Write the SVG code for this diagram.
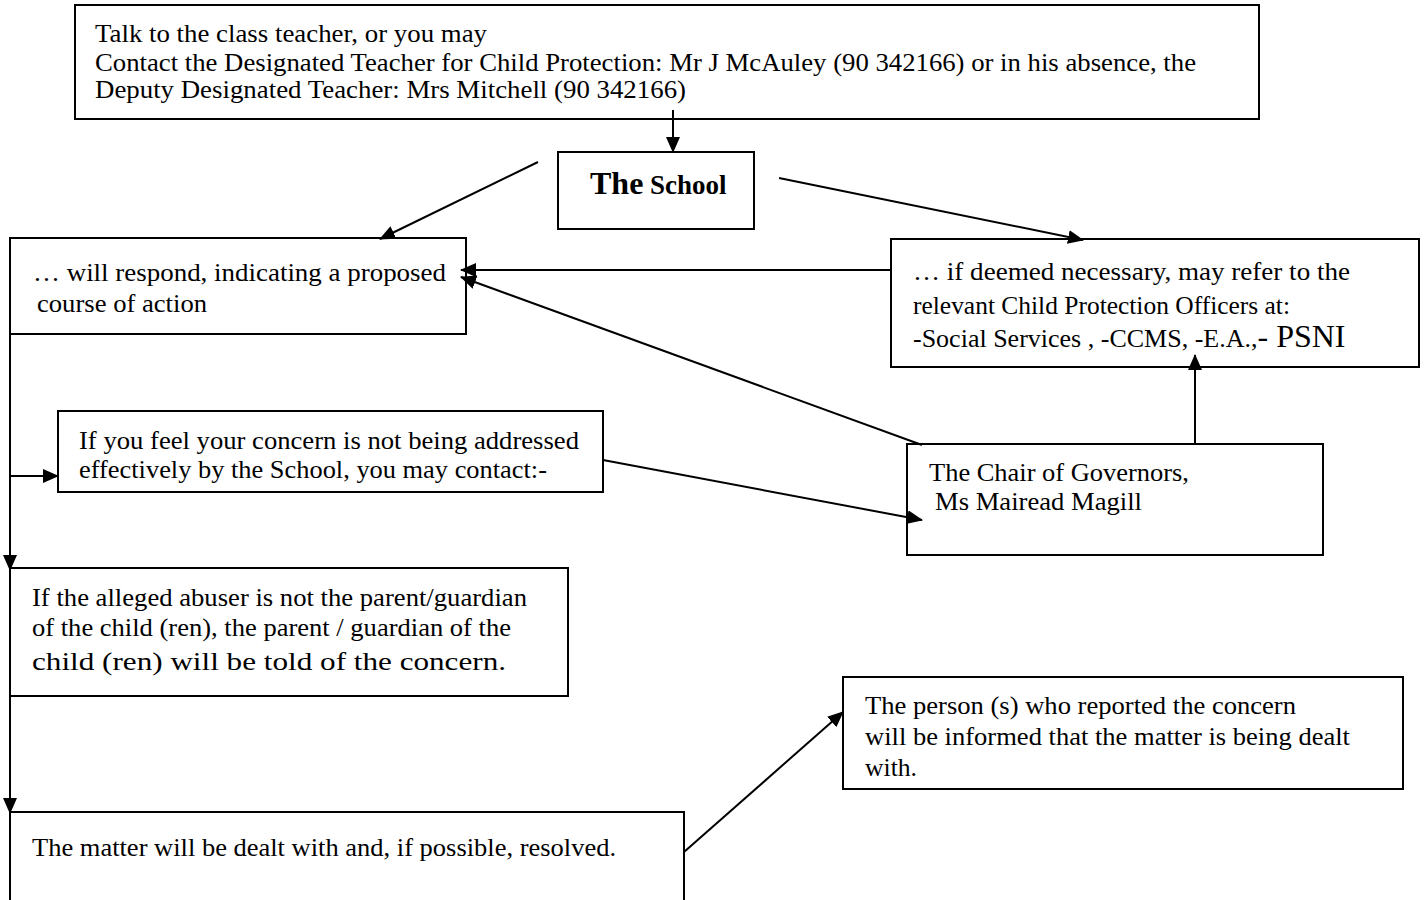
<svg xmlns="http://www.w3.org/2000/svg" width="1426" height="900" viewBox="0 0 1426 900">
<style>
.box{fill:#fff;stroke:#000;stroke-width:2}
.t{font-family:"Liberation Serif","Times New Roman",serif;font-size:26px;fill:#000}
.s{font-size:25px}
.b{font-weight:bold}
.c{fill:none;stroke:#000;stroke-width:2}
</style>
<defs>
<marker id="ah" markerUnits="userSpaceOnUse" markerWidth="16" markerHeight="14" refX="15" refY="7" orient="auto">
<path d="M0,0 L16,7 L0,14 Z" fill="#000"/>
</marker>
</defs>
<rect width="1426" height="900" fill="#fff"/>
<g id="top">
<rect class="box" x="75" y="5" width="1184" height="114"/>
<text class="t s" x="95" y="42" textLength="392" lengthAdjust="spacingAndGlyphs">Talk to the class teacher, or you may</text>
<text class="t s" x="95" y="71" textLength="1101" lengthAdjust="spacingAndGlyphs">Contact the Designated Teacher for Child Protection: Mr J McAuley (90 342166) or in his absence, the</text>
<text class="t s" x="95" y="98" textLength="591" lengthAdjust="spacingAndGlyphs">Deputy Designated Teacher: Mrs Mitchell (90 342166)</text>
</g>
<g id="school">
<rect class="box" x="558" y="152" width="196" height="77"/>
<text class="t b" x="590" y="194"><tspan font-size="32">The</tspan><tspan font-size="27"> School</tspan></text>
</g>
<g id="respond">
<rect class="box" x="10" y="238" width="456" height="96"/>
<text class="t" x="33" y="281" textLength="413" lengthAdjust="spacingAndGlyphs">… will respond, indicating a proposed</text>
<text class="t" x="37" y="312" textLength="170" lengthAdjust="spacingAndGlyphs">course of action</text>
</g>
<g id="refer">
<rect class="box" x="891" y="239" width="528" height="128"/>
<text class="t" x="913" y="280" textLength="437" lengthAdjust="spacingAndGlyphs">… if deemed necessary, may refer to the</text>
<text class="t" x="913" y="314" textLength="377" lengthAdjust="spacingAndGlyphs">relevant Child Protection Officers at:</text>
<text class="t" x="913" y="347">-Social Services , -CCMS, -E.A.,<tspan font-size="32">- PSNI</tspan></text>
</g>
<g id="notaddressed">
<rect class="box" x="58" y="411" width="545" height="81"/>
<text class="t" x="79" y="449" textLength="500" lengthAdjust="spacingAndGlyphs">If you feel your concern is not being addressed</text>
<text class="t" x="79" y="478" textLength="468" lengthAdjust="spacingAndGlyphs">effectively by the School, you may contact:-</text>
</g>
<g id="chair">
<rect class="box" x="907" y="444" width="416" height="111"/>
<text class="t" x="929" y="481" textLength="260" lengthAdjust="spacingAndGlyphs">The Chair of Governors,</text>
<text class="t" x="935" y="510" textLength="207" lengthAdjust="spacingAndGlyphs">Ms Mairead Magill</text>
</g>
<g id="parent">
<rect class="box" x="10" y="568" width="558" height="128"/>
<text class="t" x="32" y="606" textLength="495" lengthAdjust="spacingAndGlyphs">If the alleged abuser is not the parent/guardian</text>
<text class="t" x="32" y="636" textLength="479" lengthAdjust="spacingAndGlyphs">of the child (ren), the parent / guardian of the</text>
<text class="t" x="32" y="670" font-size="28" textLength="474" lengthAdjust="spacingAndGlyphs">child (ren) will be told of the concern.</text>
</g>
<g id="informed">
<rect class="box" x="843" y="677" width="560" height="112"/>
<text class="t" x="865" y="714" textLength="431" lengthAdjust="spacingAndGlyphs">The person (s) who reported the concern</text>
<text class="t" x="865" y="745" textLength="485" lengthAdjust="spacingAndGlyphs">will be informed that the matter is being dealt</text>
<text class="t" x="865" y="776" textLength="52" lengthAdjust="spacingAndGlyphs">with.</text>
</g>
<g id="resolved">
<rect class="box" x="10" y="812" width="674" height="100"/>
<text class="t" x="32" y="856" textLength="584" lengthAdjust="spacingAndGlyphs">The matter will be dealt with and, if possible, resolved.</text>
</g>
<g id="connectors">
<line class="c" x1="673" y1="110" x2="673" y2="152" marker-end="url(#ah)"/>
<line class="c" x1="538" y1="162" x2="380" y2="239" marker-end="url(#ah)"/>
<line class="c" x1="779" y1="178" x2="1083" y2="240" marker-end="url(#ah)"/>
<line class="c" x1="891" y1="270" x2="461" y2="270" marker-end="url(#ah)"/>
<line class="c" x1="922" y1="445" x2="461" y2="277" marker-end="url(#ah)"/>
<line class="c" x1="1195" y1="445" x2="1195" y2="355" marker-end="url(#ah)"/>
<line class="c" x1="603" y1="460" x2="922" y2="520" marker-end="url(#ah)"/>
<line class="c" x1="10" y1="305" x2="10" y2="570" marker-end="url(#ah)"/>
<line class="c" x1="10" y1="696" x2="10" y2="813" marker-end="url(#ah)"/>
<line class="c" x1="10" y1="476" x2="58" y2="476" marker-end="url(#ah)"/>
<line class="c" x1="684" y1="852" x2="843" y2="712" marker-end="url(#ah)"/>
</g>
</svg>
